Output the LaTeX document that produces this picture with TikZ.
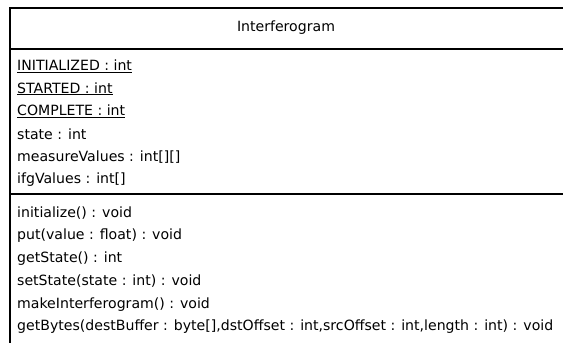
\documentclass[tikz,border=0pt]{standalone}
\usepackage{fontspec}
\setmainfont{DejaVu Sans}
\usetikzlibrary{positioning}

\begin{document}
\begin{tikzpicture}[x=1pt, y=-1pt, node distance=0pt,
  member/.style={anchor=west, inner sep=0pt, minimum height=22.4pt,
    font=\fontsize{14.1}{16}\selectfont},
  classname/.style={inner sep=0pt, font=\fontsize{14.1}{16}\selectfont},
  frame/.style={line width=1.3pt}]
  \useasboundingbox (0,0) rectangle (563,343);
  % class box, runs off the right and bottom edges
  \draw[frame] (563,8) -- (10,8) -- (10,343);
  \draw[frame] (10,49) -- (563,49);
  \draw[frame] (10,194) -- (563,194);
  \node[classname] (name) at (286,28) {Interferogram};
  % attributes
  \node[member] (initialized) at (17,66) {\underline{INITIALIZED : int}};
  \node[member, below=of initialized.south west, anchor=north west] (started) {\underline{STARTED : int}};
  \node[member, below=of started.south west, anchor=north west] (complete) {\underline{COMPLETE : int}};
  \node[member, below=of complete.south west, anchor=north west] (state) {state : int};
  \node[member, below=of state.south west, anchor=north west] (measure) {measureValues : int[][]};
  \node[member, below=of measure.south west, anchor=north west] (ifg) {ifgValues : int[]};
  % operations
  \node[member] (initialize) at (17,213) {initialize() : void};
  \node[member, below=of initialize.south west, anchor=north west] (put) {put(value : float) : void};
  \node[member, below=of put.south west, anchor=north west] (getstate) {getState() : int};
  \node[member, below=of getstate.south west, anchor=north west] (setstate) {setState(state : int) : void};
  \node[member, below=of setstate.south west, anchor=north west] (makeifg) {makeInterferogram() : void};
  \node[member, below=of makeifg.south west, anchor=north west] (getbytes) {getBytes(destBuffer : byte[],dstOffset : int,srcOffset : int,length : int) : void};
\end{tikzpicture}
\end{document}
